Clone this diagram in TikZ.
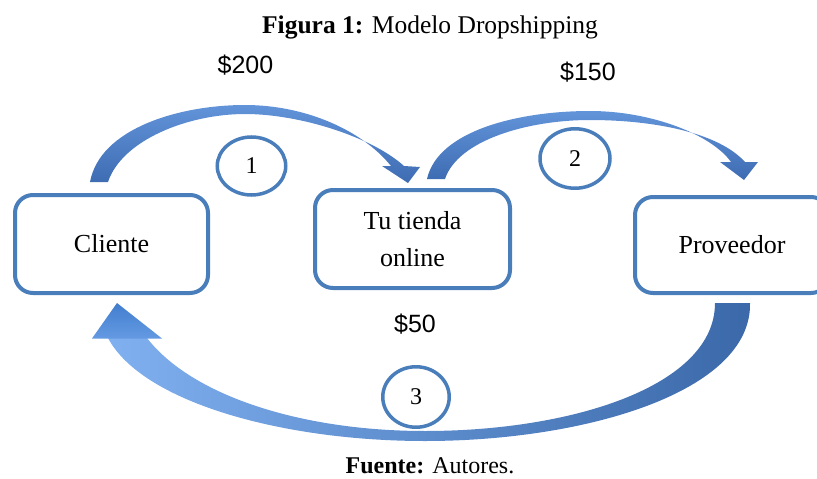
\documentclass[tikz,border=0pt]{standalone}
\usepackage{fontspec}
\setmainfont{Liberation Serif}
\newfontfamily\arialf{Liberation Sans}
\usetikzlibrary{shapes.geometric}
\definecolor{boxblue}{RGB}{74,126,187}
\definecolor{arrtop}{RGB}{98,148,218}
\definecolor{arrbot}{RGB}{62,108,178}
\definecolor{arrlight}{RGB}{128,176,240}
\definecolor{arrdark}{RGB}{58,104,168}
\definecolor{headtop}{RGB}{66,126,206}
\definecolor{headbot}{RGB}{100,154,226}
\begin{document}
\begin{tikzpicture}[x=1pt,y=-1pt,
  boxnode/.style={draw=boxblue, line width=4pt, rounded corners=18pt, fill=white,
    align=center, font=\fontsize{26}{37}\selectfont, inner sep=0pt},
  numnode/.style={draw=boxblue, line width=3.5pt, ellipse, inner sep=0pt,
    font=\fontsize{24}{26}\selectfont},
  money/.style={font=\arialf\fontsize{25}{28}\selectfont, anchor=base},
  caption/.style={font=\fontsize{25.5}{28}\selectfont, anchor=base},
  arrowband/.style={top color=arrtop, bottom color=arrbot, draw=none}
]
\useasboundingbox (0,0) rectangle (817,479);
\clip (0,0) rectangle (817,479);

% captions
\node[caption] (title) at (430,33) {\textbf{Figura 1:} Modelo Dropshipping};
\node[caption, font=\fontsize{24}{28}\selectfont] (source) at (430,473) {\textbf{Fuente:} Autores.};

% amounts
\node[money] (m200) at (245.5,73) {\$200};
\node[money] (m150) at (588,80) {\$150};
\node[money] (m50) at (415,332) {\$50};

% arrow 1: Cliente -> Tu tienda
\path[arrowband]
  (90,182) .. controls (100,128) and (180,105) .. (245,105)
  .. controls (305,105) and (362,130) .. (391,166)
  -- (382,166) -- (408,183) -- (420,167) -- (404,166)
  .. controls (372,137) and (300,114) .. (245,114)
  .. controls (188,114) and (122,140) .. (108,182) -- cycle;

% arrow 2: Tu tienda -> Proveedor
\path[arrowband]
  (427,179) .. controls (438,130) and (520,111) .. (590,111)
  .. controls (652,111) and (712,135) .. (731,162)
  -- (720,162) -- (744,180) -- (758,162) -- (745,162)
  .. controls (718,132) and (652,120) .. (590,120)
  .. controls (528,120) and (458,140) .. (445,179) -- cycle;

% arrow 3: Proveedor -> Cliente
\path[left color=arrlight, right color=arrdark, draw=none]
  (750,303) .. controls (752,392) and (585,441) .. (425,441)
  .. controls (282,441) and (142,402) .. (108,338)
  -- (147,338)
  .. controls (192,396) and (302,431) .. (425,431)
  .. controls (572,431) and (715,386) .. (715,303) -- cycle;
\path[top color=headtop, bottom color=headbot, draw=none]
  (92,338.5) -- (117,303) -- (162,338.5) -- cycle;

% boxes
\node[boxnode, minimum width=193pt, minimum height=98pt] (cliente) at (111.5,244) {Cliente};
\node[boxnode, minimum width=195pt, minimum height=98pt] (tienda) at (412.5,239) {Tu tienda\\online};
\node[boxnode, minimum width=194pt, minimum height=96pt] (proveedor) at (732,245) {Proveedor};

% step numbers
\node[numnode, minimum width=68.5pt, minimum height=58pt] (n1) at (251.5,166) {1};
\node[numnode, minimum width=70pt, minimum height=59.5pt] (n2) at (575,158.5) {2};
\node[numnode, minimum width=66.5pt, minimum height=60.5pt] (n3) at (416,397) {3};
\end{tikzpicture}
\end{document}
